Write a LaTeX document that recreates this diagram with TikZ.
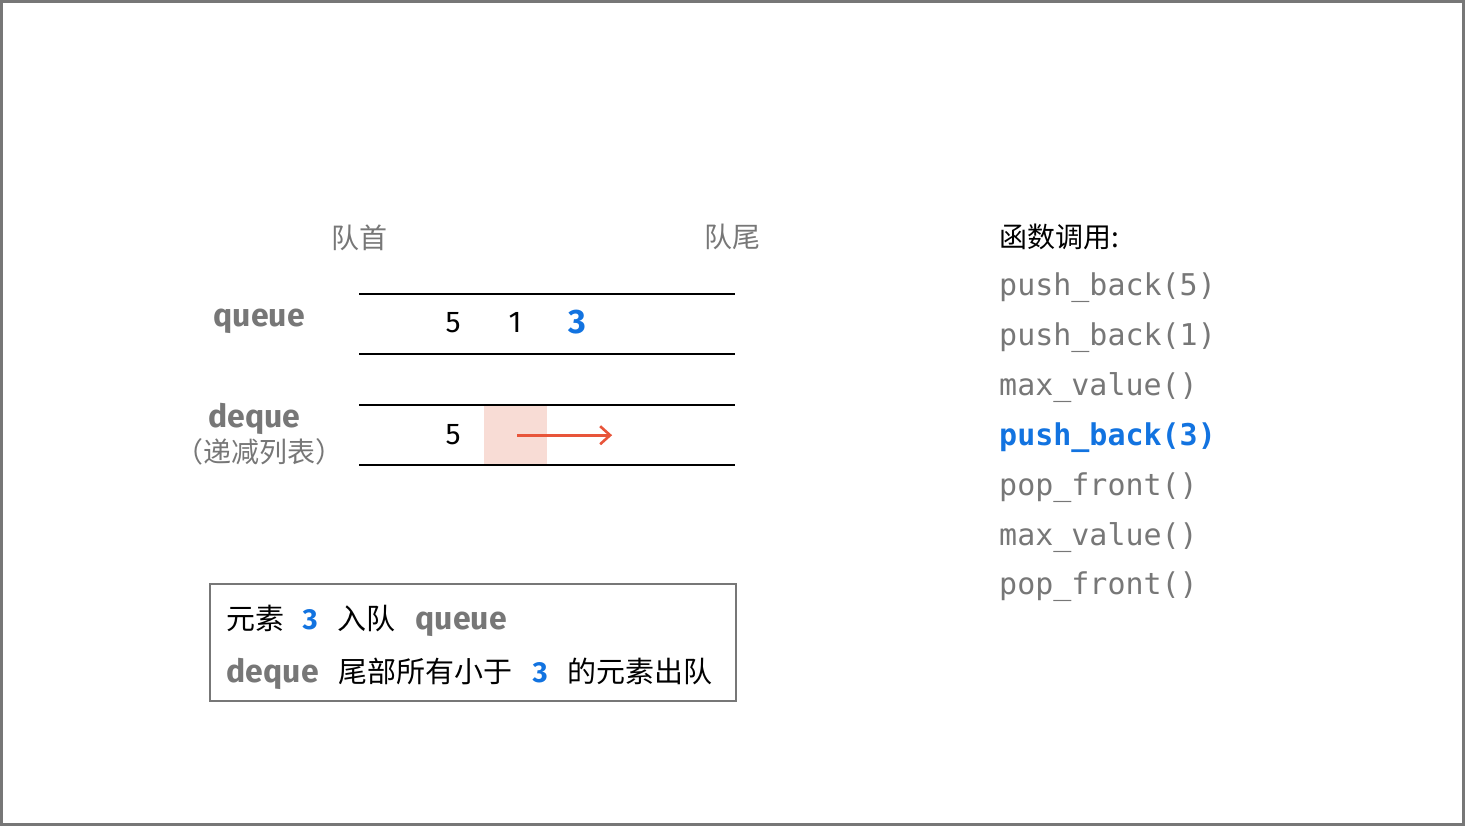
\documentclass[tikz,border=0pt]{standalone}
\usetikzlibrary{arrows.meta}
\usepackage{fontspec}
\setmainfont{Fira Sans}
\newfontfamily\cjk{Noto Sans CJK SC}
\newfontfamily\mono{DejaVu Sans Mono}
\definecolor{g}{HTML}{777777}
\definecolor{bl}{HTML}{1273E0}
\definecolor{pk}{HTML}{F8DCD5}
\definecolor{rd}{HTML}{E8553A}
\begin{document}
\begin{tikzpicture}[x=0.5pt,y=-0.5pt,
 t/.style={font=\cjk\fontsize{14}{16}\selectfont,inner sep=0},
 bt/.style={font=\cjk\fontsize{14.5}{16}\selectfont,inner sep=0},
 lb/.style={font=\bfseries\fontsize{16}{17}\selectfont,text=g,inner sep=0},
 num/.style={font=\fontsize{15}{17}\selectfont,inner sep=0},
 fn/.style={font=\mono\fontsize{15}{17}\selectfont,text=g,anchor=west,inner sep=0},
 ln/.style={line width=1pt}]
\draw[line width=1.5pt,g] (1,1) rectangle (1464,825);
\useasboundingbox (0,0) rectangle (1465,826);
\node[t,text=g] (h) at (359,237) {队首};
\node[t,text=g] (tl) at (732,237) {队尾};
\coordinate (q1a) at (359,294); \coordinate (q1b) at (735,294);
\coordinate (q2a) at (359,354); \coordinate (q2b) at (735,354);
\draw[ln] (q1a)--(q1b); \draw[ln] (q2a)--(q2b);
\node[lb] (ql) at (259,321) {queue};
\node[num] (n5) at (453,322) {5};
\node[num] (n1) at (515,322) {1};
\node[num,font=\bfseries\fontsize{17}{17}\selectfont,text=bl] (n3) at (577,322) {3};
\fill[pk] (484,406) rectangle (547,464);
\coordinate (d1a) at (359,405); \coordinate (d1b) at (735,405);
\coordinate (d2a) at (359,465); \coordinate (d2b) at (735,465);
\draw[ln] (d1a)--(d1b); \draw[ln] (d2a)--(d2b);
\node[lb] (dl) at (254,419) {deque};
\node[t,text=g] (dl2) at (259,452) {（递减列表）};
\node[num] (d5) at (453,434) {5};
\coordinate (as) at (517,435); \coordinate (ae) at (612,435);
\draw[rd,line width=1.3pt,-{Straight Barb[length=5pt,width=9pt,line width=1.3pt]}] (as)--(ae);
\draw[g,line width=1pt] (210,584) rectangle (736,701);
\node[bt,anchor=west] (b1) at (226,621) {元素\hspace{9pt}{\fontspec{Fira Sans}\bfseries\color{bl}3}\hspace{10pt}入队\hspace{10pt}{\fontspec{Fira Sans}\bfseries\fontsize{16}{17}\selectfont\color{g}queue}};
\node[bt,anchor=west] (b2) at (226,674) {{\fontspec{Fira Sans}\bfseries\fontsize{16}{17}\selectfont\color{g}deque}\hspace{10pt}尾部所有小于\hspace{10pt}{\fontspec{Fira Sans}\bfseries\color{bl}3}\hspace{10pt}的元素出队};
\node[t,anchor=west] (fh) at (999,237) {函数调用:};
\node[fn] (f1) at (999,287) {push\_back(5)};
\node[fn] (f2) at (999,337) {push\_back(1)};
\node[fn] (f3) at (999,387) {max\_value()};
\node[fn,text=bl,font=\mono\bfseries\fontsize{15}{17}\selectfont] (f4) at (999,437) {push\_back(3)};
\node[fn] (f5) at (999,487) {pop\_front()};
\node[fn] (f6) at (999,537) {max\_value()};
\node[fn] (f7) at (999,587) {pop\_front()};
\end{tikzpicture}
\end{document}
